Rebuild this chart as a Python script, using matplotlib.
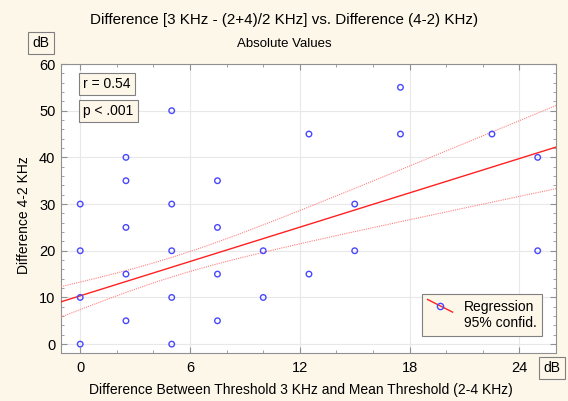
import numpy as np
import matplotlib.pyplot as plt
from matplotlib.lines import Line2D
from matplotlib.legend_handler import HandlerBase

plt.rcParams['font.family'] = ['Liberation Sans', 'DejaVu Sans']

# data
x_vals = [0, 0, 0, 0,
          2.5, 2.5, 2.5, 2.5, 2.5,
          5, 5, 5, 5, 5,
          7.5, 7.5, 7.5, 7.5,
          10, 10,
          12.5, 12.5,
          15, 15,
          17.5, 17.5,
          22.5,
          25, 25]
y_vals = [30, 20, 10, 0,
          40, 35, 25, 15, 5,
          50, 30, 20, 10, 0,
          35, 25, 15, 5,
          20, 10,
          45, 15,
          30, 20,
          55, 45,
          45,
          40, 20]
# regression and 95% band (points overlap, so not all are visible)
reg_intercept = 10.35
reg_slope = 1.225
band_center = 5.0
band_min = 2.1
band_growth = 0.412
r_text = "r = 0.54"
p_text = "p < .001"

xs = np.linspace(-1.05, 26, 200)
fit = reg_intercept + reg_slope * xs
half = np.sqrt(band_min ** 2 + (band_growth * (xs - band_center)) ** 2)


class SlantHandler(HandlerBase):
    def create_artists(self, legend, orig_handle, xdescent, ydescent, width, height, fontsize, trans):
        x0, x1 = -xdescent, width - xdescent
        y0, y1 = height * 1.15 - ydescent, -height * 0.15 - ydescent
        ln = Line2D([x0, x1], [y0, y1], color='#ff2020', lw=1.0, transform=trans)
        mk = Line2D([(x0 + x1) / 2], [(y0 + y1) / 2], ls='none', marker='o', ms=4.5,
                    mfc='none', mec='#4848ff', mew=1.0, transform=trans)
        return [ln, mk]


bg = '#fdf7ea'
fig = plt.figure(figsize=(5.68, 4.01), dpi=100, facecolor=bg)
ax = fig.add_axes([61 / 568, 1 - 353 / 401, 495 / 568, 289 / 401])
ax.set_facecolor('white')

ax.plot(xs, fit, color='#ff2020', lw=1.0, zorder=3)
ax.plot(xs, fit + half, color='#ff8080', lw=0.8, ls=(0, (1, 1)), zorder=3)
ax.plot(xs, fit - half, color='#ff8080', lw=0.8, ls=(0, (1, 1)), zorder=3)
ax.scatter(x_vals, y_vals, s=16, facecolors='none', edgecolors='#4848ff', linewidths=1.0, zorder=4)

ax.set_xlim(-1.05, 26)
ax.set_ylim(-1.9, 60)
ax.set_xticks([0, 6, 12, 18, 24])
ax.set_xticks(np.arange(0, 26.1, 2), minor=True)
ax.set_yticks(np.arange(0, 61, 10))
ax.set_yticks(np.arange(0, 61, 2), minor=True)
ax.grid(True, which='major', color='#e8e8e8', lw=0.8)
ax.set_axisbelow(True)
ax.tick_params(which='both', top=True, right=True, direction='in', color='#909090')
ax.tick_params(which='major', length=4, labelsize=10.5)
ax.tick_params(which='minor', length=2.5)
ax.tick_params(axis='x', which='major', pad=6)
ax.tick_params(axis='y', which='major', pad=4)
for sp in ax.spines.values():
    sp.set_color('#909090')

fig.text(0.5, 1 - 20 / 401, "Difference [3 KHz - (2+4)/2 KHz] vs. Difference (4-2) KHz)",
         ha='center', va='center', fontsize=10.9)
fig.text(0.5, 1 - 44 / 401, "Absolute Values", ha='center', va='center', fontsize=9.5)
ax.set_xlabel("Difference Between Threshold 3 KHz and Mean Threshold (2-4 KHz)", fontsize=10)
ax.xaxis.set_label_coords(0.484, -0.105)
ax.set_ylabel("Difference 4-2 KHz", fontsize=10)
ax.yaxis.set_label_coords(-0.061, 0.476)

box = dict(boxstyle='square,pad=0.3', fc=bg, ec='#808080', lw=0.8)
fig.text(41 / 568, 1 - 43 / 401, "dB", ha='center', va='center', fontsize=10, bbox=box)
fig.text(552 / 568, 1 - 368 / 401, "dB", ha='center', va='center', fontsize=10, bbox=box)
ax.text(0.045, 0.93, r_text, transform=ax.transAxes, ha='left', va='center', fontsize=10, bbox=box)
ax.text(0.045, 0.838, p_text, transform=ax.transAxes, ha='left', va='center', fontsize=10, bbox=box)

h1, = ax.plot([], [], color='#ff2020')
h2, = ax.plot([], [], color='none')
leg = ax.legend([h1, h2], ["Regression", "95% confid."], loc='lower right',
                bbox_to_anchor=((542 - 61) / 495, (353 - 336) / 289), borderaxespad=0,
                fontsize=10, fancybox=False, framealpha=1, edgecolor='#808080',
                handlelength=1.8, labelspacing=0.2, handletextpad=0.8,
                handler_map={h1: SlantHandler()})
leg.get_frame().set_facecolor(bg)
leg.get_frame().set_linewidth(0.8)

fig.savefig("out.png", dpi=100, facecolor=bg)
